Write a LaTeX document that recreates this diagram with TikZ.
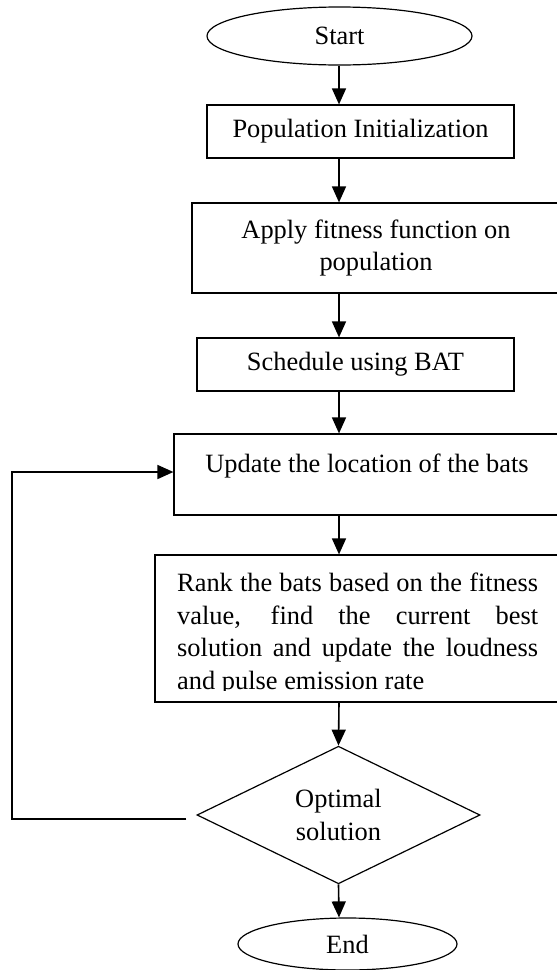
\documentclass[tikz,border=0pt]{standalone}
\usepackage{fontspec}
\setmainfont{Liberation Serif}
\usetikzlibrary{shapes.geometric,arrows.meta}
\begin{document}
\begin{tikzpicture}[x=1pt,y=-1pt,
  every node/.style={font=\fontsize{26.4}{32.5}\selectfont},
  box/.style={draw, line width=1.2pt, rectangle, inner sep=0pt, align=center},
  term/.style={draw, line width=1.2pt, ellipse, inner sep=0pt},
  decision/.style={draw, line width=1.2pt, diamond, inner sep=0pt, align=center},
  flow/.style={line width=1.6pt, -{Triangle[width=14pt 0,length=16pt 0]}},
  link/.style={line width=1.6pt}]
\useasboundingbox (0,0) rectangle (557,970);
\clip (0,0) rectangle (557,970);

% vertical axis of the main flow and the x of the feedback line
\coordinate (axis) at (339,0);
\coordinate (loopx) at (12,0);

\node[term, minimum width=265pt, minimum height=58pt] (start) at (339.5,36) {Start};
\node[box, minimum width=307pt, minimum height=53pt] (pop) at (360.5,131.5) {Population Initialization};
\node[box, minimum width=368pt, minimum height=90pt] (apply) at (376,248) {Apply fitness function on\\population};
\node[box, minimum width=317pt, minimum height=53pt] (sched) at (355.5,364.5) {Schedule using BAT};
\node[box, minimum width=386pt, text height=38pt, text depth=43pt] (update) at (367,474.5) {Update the location of the bats};
\node[box, minimum width=405pt, minimum height=147pt] (rank) at (357.5,628.5) {};
\begin{scope}
  \clip (155,555) rectangle (560,690);
  \node[anchor=north west, inner sep=0pt, text width=361pt, align=justify] (ranktext) at (177,573)
    {\hyphenpenalty=10000 Rank the bats based on the fitness\linebreak
     value, find the current best\linebreak
     solution and update the loudness\linebreak
     and pulse emission rate};
\end{scope}
\node[decision, minimum width=283pt, minimum height=134pt] (dec) at (338.5,815) {Optimal\\solution};
\node[term, minimum width=219pt, minimum height=52pt] (end) at (347.5,944) {End};

% main flow
\draw[flow] (start.south -| axis) -- (pop.north -| axis);
\draw[flow] (pop.south -| axis) -- (apply.north -| axis);
\draw[flow] (apply.south -| axis) -- (sched.north -| axis);
\draw[flow] (sched.south -| axis) -- (update.north -| axis);
\draw[flow] (update.south -| axis) -- (rank.north -| axis);
\draw[flow] (rank.south -| axis) -- (dec.north);
\draw[flow] (dec.south) -- (end.north -| axis);

% feedback loop from the decision back to the update step
\coordinate (back) at ([xshift=-10pt,yshift=-4pt]dec.west);
\draw[flow] (back) -- (back -| loopx) |- ([yshift=2.5pt]update.west);
\end{tikzpicture}
\end{document}
